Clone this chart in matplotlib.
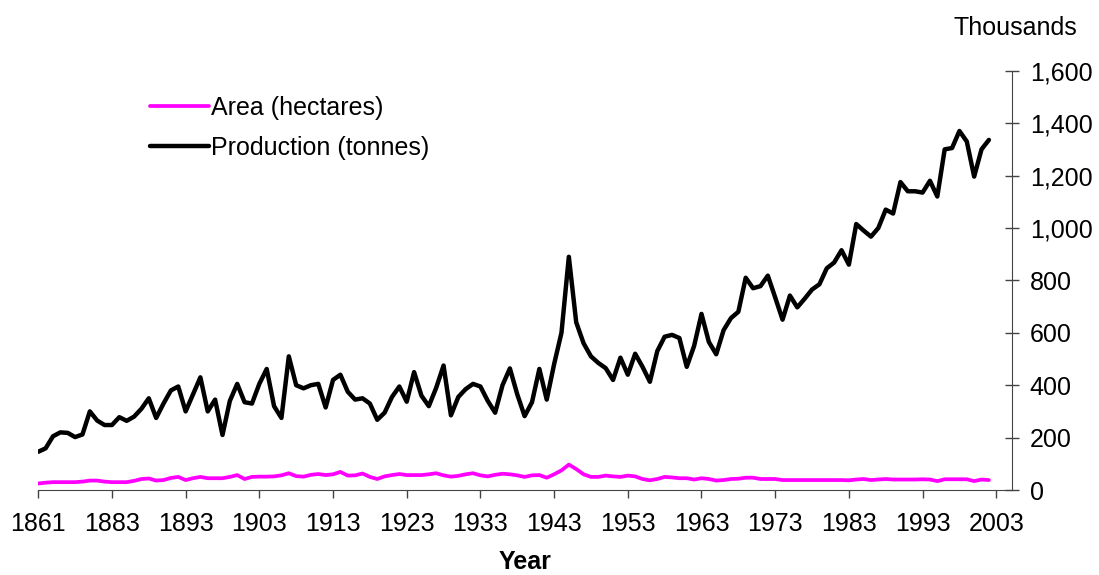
import matplotlib
matplotlib.use("Agg")
import matplotlib.pyplot as plt
from matplotlib.ticker import FuncFormatter
import numpy as np

plt.rcParams["font.family"] = ["Liberation Sans", "DejaVu Sans"]

# category years (1862-1873 missing from the series)
years = [1861] + list(range(1874, 2003))

production = [
    146, 159, 205, 220, 218, 202, 212, 300, 265, 248,
    248, 278, 264, 280, 310, 350, 275, 330, 380, 395,
    300, 365, 430, 300, 345, 210, 340, 405, 335, 330,
    405, 462, 320, 275, 510, 400, 388, 400, 405, 315,
    420, 440, 375, 345, 350, 330, 268, 295, 355, 395,
    337, 450, 360, 320, 390, 475, 285, 355, 385, 405,
    395, 340, 295, 400, 464, 365, 282, 335, 462, 345,
    480, 600, 890, 640, 560, 510, 485, 465, 420, 505,
    440, 520, 470, 413, 530, 585, 592, 580, 470, 550,
    672, 565, 518, 610, 656, 680, 810, 770, 778, 818,
    735, 650, 742, 697, 730, 765, 785, 846, 868, 915,
    860, 1015, 990, 967, 1000, 1070, 1055, 1175, 1140, 1140,
    1135, 1180, 1120, 1300, 1305, 1370, 1330, 1196, 1300, 1336,
]

area = [
    25, 28, 30, 30, 30, 30, 32, 36, 36, 32,
    30, 30, 30, 35, 42, 44, 36, 38, 46, 50,
    38, 45, 50, 45, 45, 45, 50, 57, 42, 50,
    51, 51, 52, 56, 64, 53, 51, 58, 61, 57,
    60, 69, 55, 56, 63, 50, 42, 52, 57, 61,
    57, 57, 57, 60, 64, 56, 51, 54, 60, 64,
    56, 52, 58, 62, 60, 56, 50, 56, 57, 47,
    60, 75, 97, 80, 60, 50, 50, 55, 52, 50,
    55, 52, 42, 37, 42, 50, 48, 45, 45, 40,
    45, 42, 36, 38, 42, 43, 47, 47, 42, 42,
    42, 38, 38, 38, 38, 38, 38, 38, 38, 38,
    37, 40, 42, 38, 40, 42, 40, 40, 40, 40,
    41, 40, 34, 41, 41, 41, 41, 34, 40, 38,
]

xtick_labels = ["1861", "1883", "1893", "1903", "1913", "1923", "1933",
                "1943", "1953", "1963", "1973", "1983", "1993", "2003"]

fig = plt.figure(figsize=(10.99, 5.75), dpi=100)
ax = fig.add_axes([0.0348, 0.1478, 0.8858, 0.7292])

x = np.arange(len(years))
ax.plot(x, area, color="#ff00ff", lw=2.7, solid_joinstyle="round",
        solid_capstyle="round", label="Area (hectares)")
ax.plot(x, production, color="black", lw=3.2, solid_joinstyle="round",
        solid_capstyle="round", label="Production (tonnes)")

ax.set_xlim(0, 132.1)
ax.set_ylim(0, 1600)

ax.set_xticks(np.arange(0, 131, 10))
ax.set_xticklabels(xtick_labels)
ax.set_yticks(np.arange(0, 1601, 200))
ax.yaxis.set_major_formatter(FuncFormatter(lambda v, p: f"{int(v):,}"))

ax.yaxis.tick_right()
for side in ["left", "top"]:
    ax.spines[side].set_visible(False)
axis_col = "#444444"
ax.spines["right"].set_color(axis_col)
ax.spines["bottom"].set_color(axis_col)

ax.tick_params(axis="x", direction="out", length=6, width=1, color=axis_col,
               labelsize=18, pad=10)
ax.tick_params(axis="y", direction="inout", length=10, width=1, color=axis_col,
               labelsize=18, pad=8)

ax.set_xlabel("Year", fontsize=18, fontweight="bold", labelpad=10)
fig.text(0.924, 0.951, "Thousands", fontsize=18, ha="center", va="center")

leg = ax.legend(loc="upper left", bbox_to_anchor=(150 / 1099, 1 - 96 / 575),
                bbox_transform=fig.transFigure, frameon=False, fontsize=18,
                handlelength=2.35, handletextpad=0.1, labelspacing=0.62,
                borderpad=0, borderaxespad=0)

fig.savefig("out.png", dpi=100)
